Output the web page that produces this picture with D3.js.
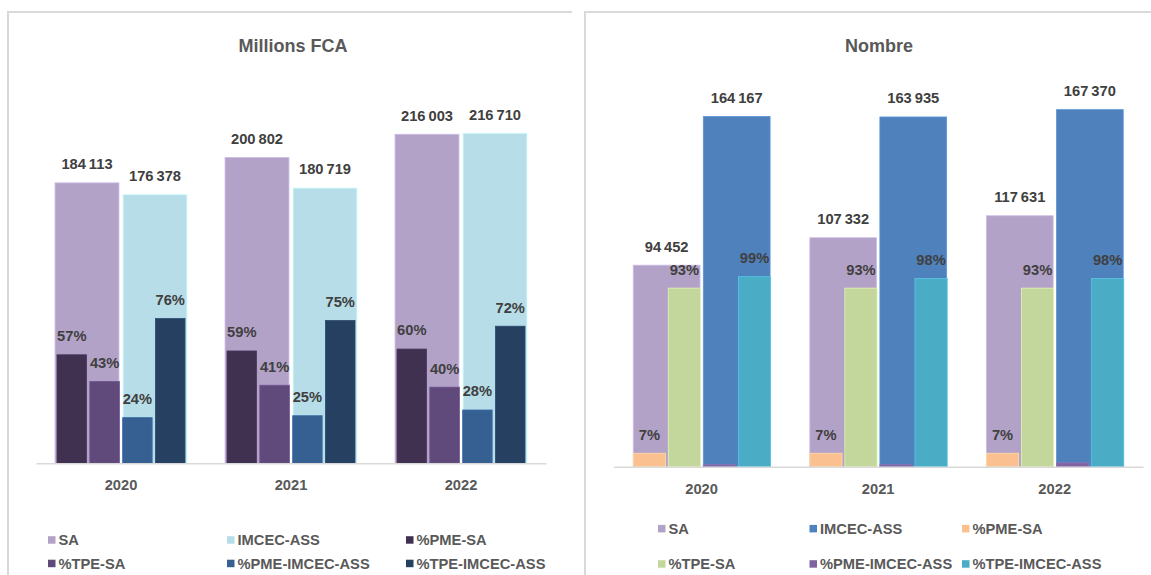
<!DOCTYPE html>
<html>
<head>
<meta charset="utf-8">
<script src="https://cdn.jsdelivr.net/npm/d3@7"></script>
<style>
  html, body { margin: 0; padding: 0; background: #fff; }
  svg { display: block; font-family: "Liberation Sans", Arial, sans-serif; }
</style>
</head>
<body>
<div id="chart"></div>
<script>
const width = 1151;
const height = 575;

const years = ["2020", "2021", "2022"];
const seriesNames = ["SA", "IMCEC-ASS", "%PME-SA", "%TPE-SA", "%PME-IMCEC-ASS", "%TPE-IMCEC-ASS"];

// Millions FCA
const fcaSA = [184113, 200802, 216003];
const fcaIMCEC = [176378, 180719, 216710];
const fcaPmeSA = [0.57, 0.59, 0.60];
const fcaTpeSA = [0.43, 0.41, 0.40];
const fcaPmeIMCEC = [0.24, 0.25, 0.28];
const fcaTpeIMCEC = [0.76, 0.75, 0.72];

// Nombre
const nbSA = [94452, 107332, 117631];
const nbIMCEC = [164167, 163935, 167370];
const nbPmeSA = [0.07, 0.07, 0.07];
const nbTpeSA = [0.93, 0.93, 0.93];
const nbPmeIMCEC = [0.01, 0.01, 0.02];
const nbTpeIMCEC = [0.99, 0.98, 0.98];

const fcaColors = ["#b3a2c7", "#b7dde8", "#403151", "#604a7b", "#366092", "#254061"];
const nbColors = ["#b3a2c7", "#4f81bd", "#fac090", "#c3d69b", "#8064a2", "#4bacc6"];

const locale = d3.formatLocale({ decimal: ",", thousands: "\u2009", grouping: [3], currency: ["", ""] });
const fmtNum = locale.format(",d");
const fmtPct = d3.format(".0%");

const FONT = 14.7;
const LABEL_COLOR = "#404040";
const TEXT_COLOR = "#595959";
const BORDER = "#d9d9d9";

const svg = d3.select("#chart")
  .append("svg")
  .attr("width", width)
  .attr("height", height);

const panels = [
  {
    title: "Millions FCA",
    frame: [8, 12, 572],
    titleX: 293,
    plotX: [36, 546],
    plotY: [82.5, 463.3],
    primaryMax: 250000,
    primary: [fcaSA, fcaIMCEC],
    secondary: [fcaPmeSA, fcaTpeSA, fcaPmeIMCEC, fcaTpeIMCEC],
    colors: fcaColors,
    primaryPad: 0.06,
    secondaryPad: 0.1,
    inner: [0.112, 0.888],
    innerSecondary: [0.1235, 0.8765],
    hideLabels: [],
    legendX: [48, 227, 406],
    legendY: [540, 563.5],
  },
  {
    title: "Nombre",
    frame: [585, 12, 1151],
    titleX: 879,
    plotX: [613.3, 1143],
    plotY: [82.7, 466.7],
    primaryMax: 180000,
    primary: [nbSA, nbIMCEC],
    secondary: [nbPmeSA, nbTpeSA, nbPmeIMCEC, nbTpeIMCEC],
    colors: nbColors,
    primaryPad: 0.047,
    secondaryPad: 0.08,
    inner: [0.113, 0.888],
    innerSecondary: [0.113, 0.891],
    hideLabels: ["%PME-IMCEC-ASS"],
    legendX: [658, 809.5, 962],
    legendY: [528.7, 564],
  },
];

function drawPanel(cfg) {
  const g = svg.append("g");

  // frame: top and left edges only
  const [fx, fy, fx2] = cfg.frame;
  g.append("path")
    .attr("d", `M${fx},${height + 2}V${fy}H${fx2}`)
    .attr("fill", "none")
    .attr("stroke", BORDER)
    .attr("stroke-width", 2);

  g.append("text")
    .attr("x", cfg.titleX)
    .attr("y", 52)
    .attr("text-anchor", "middle")
    .attr("font-size", 18)
    .attr("font-weight", "bold")
    .attr("fill", TEXT_COLOR)
    .text(cfg.title);

  const x0 = d3.scaleBand().domain(years).range(cfg.plotX);
  const bw = x0.bandwidth();

  const primaryKeys = seriesNames.slice(0, 2);
  const secondaryKeys = seriesNames.slice(2);

  const x1 = d3.scaleBand()
    .domain(primaryKeys)
    .range([cfg.inner[0] * bw, cfg.inner[1] * bw])
    .paddingInner(cfg.primaryPad);

  const x2 = d3.scaleBand()
    .domain(secondaryKeys)
    .range([cfg.innerSecondary[0] * bw, cfg.innerSecondary[1] * bw])
    .paddingInner(cfg.secondaryPad);

  const y = d3.scaleLinear().domain([0, cfg.primaryMax]).range([cfg.plotY[1], cfg.plotY[0]]);
  const y2 = d3.scaleLinear().domain([0, 2]).range([cfg.plotY[1], cfg.plotY[0]]);

  const color = d3.scaleOrdinal().domain(seriesNames).range(cfg.colors);

  const primaryData = [];
  years.forEach((yr, i) => {
    primaryKeys.forEach((k, j) => primaryData.push({ year: yr, key: k, value: cfg.primary[j][i] }));
  });
  const secondaryData = [];
  years.forEach((yr, i) => {
    secondaryKeys.forEach((k, j) => secondaryData.push({ year: yr, key: k, value: cfg.secondary[j][i] }));
  });

  g.selectAll(".bar-primary")
    .data(primaryData)
    .join("rect")
    .attr("class", "bar-primary")
    .attr("x", d => x0(d.year) + x1(d.key))
    .attr("width", x1.bandwidth())
    .attr("y", d => y(d.value))
    .attr("height", d => y(0) - y(d.value))
    .attr("fill", d => color(d.key))
    .attr("stroke", d => d3.color(color(d.key)).brighter(0.4))
    .attr("stroke-width", 0.8);

  g.selectAll(".bar-secondary")
    .data(secondaryData)
    .join("rect")
    .attr("class", "bar-secondary")
    .attr("x", d => x0(d.year) + x2(d.key))
    .attr("width", x2.bandwidth())
    .attr("y", d => y2(d.value))
    .attr("height", d => y2(0) - y2(d.value))
    .attr("fill", d => color(d.key))
    .attr("stroke", d => d3.color(color(d.key)).brighter(0.4))
    .attr("stroke-width", 0.8);

  // x axis
  const axis = g.append("g")
    .attr("transform", `translate(0,${cfg.plotY[1]})`)
    .call(d3.axisBottom(x0).tickSize(0).tickPadding(0));
  axis.select(".domain")
    .attr("stroke", BORDER)
    .attr("stroke-width", 1.5);
  axis.selectAll(".tick text")
    .attr("y", 27)
    .attr("dy", null)
    .attr("font-size", FONT)
    .attr("font-weight", "bold")
    .attr("font-family", "Liberation Sans, Arial, sans-serif")
    .attr("fill", TEXT_COLOR);

  // data labels
  g.selectAll(".label-primary")
    .data(primaryData)
    .join("text")
    .attr("class", "label-primary")
    .attr("x", d => x0(d.year) + x1(d.key) + x1.bandwidth() / 2)
    .attr("y", d => y(d.value) - 13.6)
    .attr("text-anchor", "middle")
    .attr("font-size", FONT)
    .attr("font-weight", "bold")
    .attr("fill", LABEL_COLOR)
    .text(d => fmtNum(d.value));

  g.selectAll(".label-secondary")
    .data(secondaryData.filter(d => !cfg.hideLabels.includes(d.key)))
    .join("text")
    .attr("class", "label-secondary")
    .attr("x", d => x0(d.year) + x2(d.key) + x2.bandwidth() / 2)
    .attr("y", d => y2(d.value) - 13.6)
    .attr("text-anchor", "middle")
    .attr("font-size", FONT)
    .attr("font-weight", "bold")
    .attr("fill", LABEL_COLOR)
    .text(d => fmtPct(d.value));

  // legend, 3 columns x 2 rows
  const legend = g.selectAll(".legend-item")
    .data(seriesNames)
    .join("g")
    .attr("class", "legend-item")
    .attr("transform", (d, i) => `translate(${cfg.legendX[i % 3]},${cfg.legendY[Math.floor(i / 3)]})`);

  legend.append("rect")
    .attr("x", 0)
    .attr("y", -3.8)
    .attr("width", 7.5)
    .attr("height", 7.5)
    .attr("fill", d => color(d));

  legend.append("text")
    .attr("x", 10.5)
    .attr("y", 5.3)
    .attr("font-size", FONT)
    .attr("font-weight", "bold")
    .attr("fill", TEXT_COLOR)
    .text(d => d);
}

panels.forEach(drawPanel);
</script>
</body>
</html>
